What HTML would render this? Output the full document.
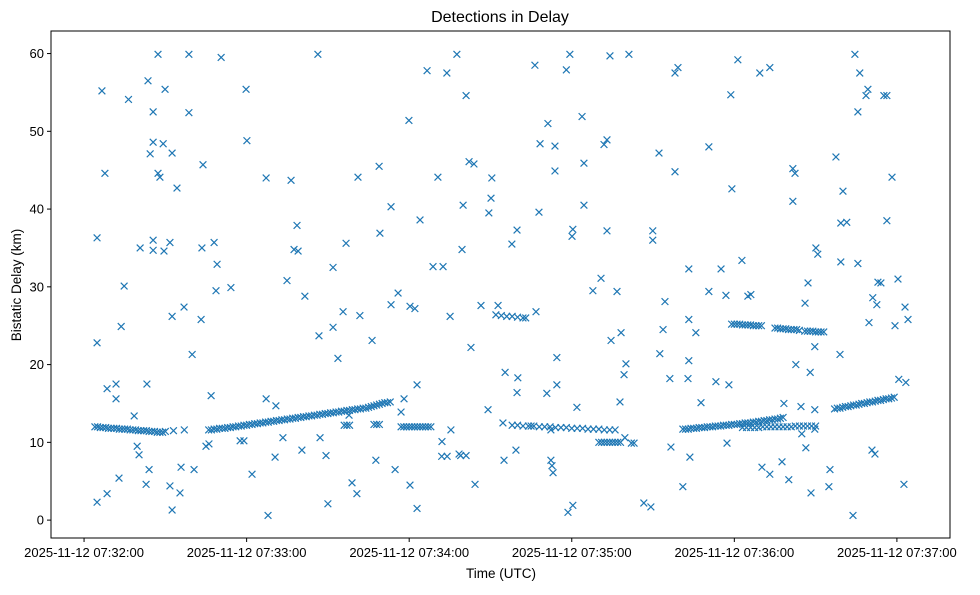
<!DOCTYPE html>
<html><head><meta charset="utf-8"><style>
body{margin:0;background:#fff;}
svg text{font-family:"Liberation Sans","DejaVu Sans",sans-serif;fill:#000;}
</style></head><body>
<svg id="chart" width="980" height="590" xmlns="http://www.w3.org/2000/svg">
<rect width="980" height="590" fill="#fff"/>
<text x="500" y="22" font-size="16" text-anchor="middle">Detections in Delay</text>
<g id="marks"></g>
<rect x="51" y="31" width="899" height="507" fill="none" stroke="#000" stroke-width="1"/>
<g id="yaxis"></g>
<g id="xaxis"></g>
<text transform="translate(21,285) rotate(-90)" font-size="13.5" text-anchor="middle">Bistatic Delay (km)</text>
<text x="501" y="578" font-size="13.5" text-anchor="middle">Time (UTC)</text>
</svg>
<script>
// seconds after 07:32:00, delay in km
const scatterT=[4.8,4.8,4.8,6.6,7.7,8.5,8.5,11.8,11.8,12.9,13.7,14.8,16.4,18.5,19.6,20.3,20.7,22.9,23.2,23.6,24.0,24.4,25.5,25.5,25.5,25.5,27.3,27.3,28.0,29.2,29.5,29.9,31.7,31.7,32.5,32.5,32.5,34.3,35.4,35.8,36.9,38.7,38.7,39.9,40.6,43.2,43.5,43.9,45.0,46.1,46.9,48.0,49.1,48.7,50.6,54.2,57.6,59.0,59.8,60.1,62.0,67.2,67.2,67.9,70.5,70.8,73.4,74.9,76.4,77.5,78.6,79.0,80.4,81.5,86.3,86.7,87.1,89.3,90.0,91.9,91.9,93.7,95.6,96.7,97.8,98.9,100.7,101.1,101.8,106.3,107.7,108.9,109.2,113.3,113.3,114.8,115.9,117.0,118.1,120.3,119.9,120.3,122.1,122.9,122.9,124.0,126.6,128.8,130.6,132.1,132.5,133.9,135.1,135.4,137.6,138.4,139.5,139.9,141.0,142.1,142.8,143.9,144.3,146.5,149.1,149.4,150.2,150.5,152.8,154.6,155.0,155.4,157.9,159.8,159.8,160.1,159.4,165.0,166.4,166.8,167.9,168.3,170.8,171.2,172.3,172.3,172.7,173.1,173.8,173.8,174.5,174.5,178.0,178.6,179.3,180.1,180.4,180.4,181.9,183.8,184.5,184.5,187.8,190.8,191.9,193.0,193.0,194.1,194.5,196.7,197.8,198.2,199.3,199.6,200.0,201.1,206.6,209.2,209.9,209.9,212.2,212.5,213.7,214.4,216.2,216.6,218.1,218.1,219.2,221.0,222.9,223.2,223.2,223.6,223.2,225.8,227.7,230.6,230.6,233.2,235.1,236.9,237.3,238.0,238.7,239.1,241.3,242.8,245.0,246.1,249.4,250.2,253.1,253.1,257.6,258.3,260.1,261.6,261.6,262.4,262.7,264.6,264.9,266.4,266.1,267.2,268.0,268.3,269.7,269.7,269.7,270.1,270.8,274.9,275.3,277.5,279.0,279.3,279.3,280.1,281.5,283.8,284.5,285.6,285.6,286.3,288.6,289.3,289.7,290.8,291.1,291.9,292.6,293.0,294.1,295.2,296.3,296.3,298.2,299.3,300.4,300.7,302.6,303.0,303.3,304.1,33,37,96,97,98,107,108,109,117,118,119,120,121,122,123,124,125,126,127,128,132,134,139,141];
const scatterD=[36.3,22.8,2.3,55.2,44.6,16.9,3.4,17.5,15.6,5.4,24.9,30.1,54.1,13.4,9.5,8.4,35.0,4.6,17.5,56.5,6.5,47.1,52.5,48.6,36.0,34.7,59.9,44.6,44.1,48.4,34.6,55.4,35.7,4.4,47.2,26.2,1.3,42.7,3.5,6.8,27.4,59.9,52.4,21.3,6.5,25.8,35.0,45.7,9.5,9.8,16.0,35.7,32.9,29.5,59.5,29.9,10.2,10.2,55.4,48.8,5.9,44.0,15.6,0.6,8.1,14.7,10.6,30.8,43.7,34.8,37.9,34.6,9.0,28.8,59.9,23.7,10.6,8.3,2.1,32.5,24.8,20.8,26.8,35.6,13.5,4.8,3.4,44.1,26.3,23.1,7.7,45.5,36.9,27.7,40.3,6.5,29.2,13.9,15.6,4.5,51.4,27.5,27.2,17.4,1.5,38.6,57.8,32.6,44.1,10.1,32.6,57.5,26.2,11.6,59.9,8.5,34.8,40.5,54.6,46.1,22.2,45.8,4.6,27.6,14.2,39.5,41.4,44.0,27.6,12.5,7.7,19.0,35.5,37.3,16.4,18.3,9.0,12.1,58.5,26.8,39.6,48.4,16.3,51.0,11.6,7.7,7.0,6.1,48.1,44.9,17.4,20.9,57.9,1.0,59.9,36.5,37.4,1.9,14.5,51.9,40.5,45.9,29.5,31.1,48.3,48.9,37.2,59.7,23.1,29.4,15.2,24.1,18.7,10.6,20.1,59.9,2.2,1.7,37.2,36.0,47.2,21.4,24.5,28.1,18.2,9.4,44.8,57.5,58.2,4.3,18.2,20.5,32.3,8.1,25.8,24.1,15.1,48.0,29.4,17.8,32.3,28.9,9.9,17.4,54.7,42.6,59.2,33.4,28.8,29.0,57.5,6.8,58.2,5.9,7.5,15.0,5.2,45.2,41.0,44.6,20.0,14.6,11.1,9.3,27.9,30.5,19.0,3.5,14.2,22.3,11.7,35.0,34.2,4.3,6.5,46.7,21.3,33.2,38.2,42.3,38.3,0.6,59.9,52.5,33.0,57.5,54.6,55.4,25.4,9.0,28.6,8.5,27.7,30.6,30.5,54.6,54.6,38.5,44.1,25.0,31.0,18.1,4.6,27.4,17.7,25.8,11.5,11.6,12.2,12.2,12.2,12.3,12.3,12.3,12.0,12.0,12.0,12.0,12.0,12.0,12.0,12.0,12.0,12.0,12.0,12.0,8.2,8.2,8.3,8.3];
const track1T=[4,5,6,7,8,9,10,11,12,13,14,15,16,17,18,19,20,21,22,23,24,25,26,27,28,29,30];
const track1D=[12.0,12.0,11.9,11.9,11.9,11.8,11.8,11.8,11.8,11.7,11.7,11.7,11.7,11.6,11.6,11.6,11.5,11.5,11.5,11.5,11.4,11.4,11.4,11.3,11.3,11.3,11.4];
const track2T=[46,47,48,49,50,51,52,53,54,55,56,57,58,59,60,61,62,63,64,65,66,67,68,69,70,71,72,73,74,75,76,77,78,79,80,81,82,83,84,85,86,87,88,89,90,91,92,93,94,95,96,97,98,99,100,101,102,103,104,105,106,107,108,109,110,111,112,113];
const track2D=[11.6,11.6,11.7,11.7,11.8,11.8,11.8,11.9,11.9,12.0,12.0,12.1,12.1,12.2,12.2,12.3,12.3,12.4,12.4,12.5,12.5,12.6,12.6,12.7,12.7,12.8,12.8,12.9,12.9,13.0,13.0,13.1,13.1,13.2,13.2,13.3,13.3,13.4,13.4,13.5,13.5,13.6,13.6,13.7,13.7,13.8,13.8,13.9,13.9,14.0,14.0,14.1,14.1,14.2,14.2,14.3,14.3,14.4,14.4,14.5,14.6,14.7,14.8,14.9,15.0,15.1,15.1,15.2];
const track3T=[152,154,156,158,160,162,163];
const track3D=[26.4,26.3,26.2,26.2,26.1,26.0,26.0];
const track4T=[158,160,162,164,166,168,170,172,174,176,178,180,182,184,186,188,190,192,194,196];
const track4D=[12.2,12.2,12.1,12.1,12.1,12.0,12.0,12.0,11.9,11.9,11.9,11.8,11.8,11.8,11.7,11.7,11.7,11.6,11.6,11.6];
const track5T=[190,191,192,193,194,195,196,197,198,202,203];
const track5D=[10.0,10.0,10.0,10.0,10.0,10.0,10.0,10.0,10.0,9.9,9.9];
const track6T=[221,222,223,224,225,226,227,228,229,230,231,232,233,234,235,236,237,238,239,240,241,242,243,244,245,246,247,248,249,250,251,252,253,254,255,256,257,258];
const track6D=[11.7,11.7,11.7,11.8,11.8,11.8,11.9,11.9,11.9,12.0,12.0,12.0,12.1,12.1,12.1,12.2,12.2,12.2,12.3,12.3,12.3,12.4,12.4,12.5,12.5,12.5,12.6,12.6,12.7,12.7,12.8,12.8,12.9,12.9,13.0,13.0,13.1,13.2];
const track7T=[243,244.5,246,247.5,249,250.5,252,253.5,255,256.5,258,259.5,261,262.5,264,265.5,267,268.5,270];
const track7D=[11.9,11.9,11.9,11.9,11.9,12.0,12.0,12.0,12.0,12.0,12.0,12.0,12.0,12.1,12.1,12.1,12.1,12.1,12.1];
const track8T=[239,240,241,242,243,244,245,246,247,248,249,250,255,256,257,258,259,260,261,262,263,264,266,267,268,269,270,271,272,273];
const track8D=[25.2,25.2,25.2,25.2,25.1,25.1,25.1,25.1,25.0,25.0,25.0,25.0,24.7,24.7,24.6,24.6,24.6,24.5,24.5,24.5,24.5,24.4,24.3,24.3,24.3,24.3,24.2,24.2,24.2,24.2];
const track9T=[277,278,279,280,281,282,283,284,285,286,287,288,289,290,291,292,293,294,295,296,297,298,299];
const track9D=[14.3,14.4,14.4,14.5,14.6,14.6,14.7,14.8,14.8,14.9,15.0,15.0,15.1,15.2,15.2,15.3,15.4,15.4,15.5,15.6,15.6,15.7,15.8];
const yTicks=[0,10,20,30,40,50,60];
const xTicks=[0,60,120,180,240,300];
const xTickLabels=["2025-11-12 07:32:00","2025-11-12 07:33:00","2025-11-12 07:34:00","2025-11-12 07:35:00","2025-11-12 07:36:00","2025-11-12 07:37:00"];

const L=51,R=950,T=31,B=538;
const xMin=-12.2,xMax=319.6,yMin=-2.3,yMax=62.9;
function xs(t){return L+(t-xMin)/(xMax-xMin)*(R-L);}
function ys(d){return B-(d-yMin)/(yMax-yMin)*(B-T);}
const NS="http://www.w3.org/2000/svg";
const marks=document.getElementById('marks');
function plot(tArr,dArr){
  for(let i=0;i<tArr.length;i++){
    const x=xs(tArr[i]),y=ys(dArr[i]),s=3.4;
    const p=document.createElementNS(NS,'path');
    p.setAttribute('d',`M${x-s},${y-s}L${x+s},${y+s}M${x-s},${y+s}L${x+s},${y-s}`);
    p.setAttribute('stroke','#1f77b4');p.setAttribute('stroke-width','1.2');p.setAttribute('fill','none');
    
    
    marks.appendChild(p);
  }
}
plot(scatterT,scatterD);plot(track1T,track1D);plot(track2T,track2D);plot(track3T,track3D);
plot(track4T,track4D);plot(track5T,track5D);plot(track6T,track6D);plot(track7T,track7D);
plot(track8T,track8D);plot(track9T,track9D);
const ya=document.getElementById('yaxis');
yTicks.forEach(v=>{
  const y=ys(v);
  const l=document.createElementNS(NS,'line');
  l.setAttribute('x1',L-4);l.setAttribute('x2',L);l.setAttribute('y1',y);l.setAttribute('y2',y);l.setAttribute('stroke','#000');
  
  
  ya.appendChild(l);
  const t=document.createElementNS(NS,'text');
  t.setAttribute('x',L-7);t.setAttribute('y',y+4.5);t.setAttribute('text-anchor','end');t.setAttribute('font-size','13');
  t.textContent=v;
  
  
  ya.appendChild(t);
});
const xa=document.getElementById('xaxis');
xTicks.forEach((v,i)=>{
  const x=xs(v);
  const l=document.createElementNS(NS,'line');
  l.setAttribute('x1',x);l.setAttribute('x2',x);l.setAttribute('y1',B);l.setAttribute('y2',B+4);l.setAttribute('stroke','#000');
  
  
  xa.appendChild(l);
  const t=document.createElementNS(NS,'text');
  t.setAttribute('x',x);t.setAttribute('y',B+19);t.setAttribute('text-anchor','middle');t.setAttribute('font-size','13');
  t.textContent=xTickLabels[i];
  
  
  xa.appendChild(t);
});
</script>
</body></html>
